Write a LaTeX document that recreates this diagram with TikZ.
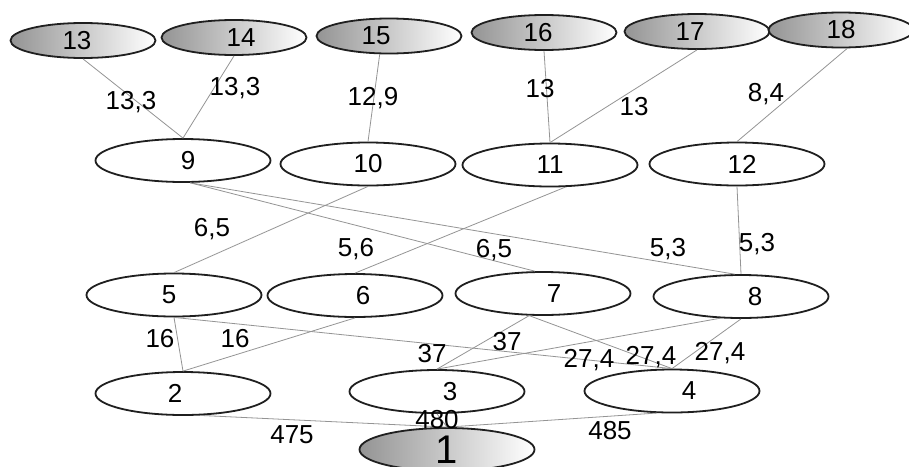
\documentclass[tikz,border=0pt]{standalone}
\usepackage{fontspec}
\setmainfont{Liberation Sans}
\usetikzlibrary{shapes.geometric}
\begin{document}
\begin{tikzpicture}[x=1pt,y=-1pt,
  ell/.style={ellipse, draw=black!88, line width=1.8pt, inner sep=0pt,
    minimum width=175pt, minimum height=43pt, font=\fontsize{26}{30}\selectfont},
  topell/.style={ell, minimum width=145pt, minimum height=35pt,
    left color=black!42, right color=white},
  rootell/.style={ell, left color=black!42, right color=white, font=\fontsize{40}{44}\selectfont},
  conn/.style={draw=black!42, line width=0.8pt},
  lbl/.style={inner sep=0pt, font=\fontsize{26}{30}\selectfont}]
\useasboundingbox (0,0) rectangle (909,466);
\fill[white] (0,0) rectangle (909,466);
% top row
\node[topell] (n13) at (83,40.5) {13\hspace*{12pt}};
\node[topell] (n14) at (234,37.5) {\hspace*{14pt}14};
\node[topell] (n15) at (389,36) {15\hspace*{26pt}};
\node[topell] (n16) at (544,32.5) {16\hspace*{12pt}};
\node[topell] (n17) at (697,31.5) {17\hspace*{14pt}};
\node[topell] (n18) at (841,30) {18};
% second row
\node[ell] (n9) at (183,160.5) {\hspace*{10pt}9};
\node[ell] (n10) at (368,164) {10};
\node[ell] (n11) at (550,165) {11};
\node[ell] (n12) at (737,164) {\hspace*{10pt}12};
% third row
\node[ell] (n5) at (174,295) {5\hspace*{10pt}};
\node[ell] (n6) at (355,295.5) {\hspace*{16pt}6};
\node[ell] (n7) at (543,293.5) {\hspace*{22pt}7};
\node[ell] (n8) at (741,296.5) {\hspace*{28pt}8};
% fourth row
\node[ell] (n2) at (183,393.5) {2\hspace*{16pt}};
\node[ell] (n3) at (437,391.5) {\hspace*{26pt}3};
\node[ell] (n4) at (672,391) {\hspace*{34pt}4};
% root
\node[rootell] (n1) at (447,449.5) {1};
% connectors
\draw[conn] (n13.south) -- (n9.north);
\draw[conn] (n14.south) -- (n9.north);
\draw[conn] (n15.-117) -- (n10.north);
\draw[conn] (n16.south) -- (n11.north);
\draw[conn] (n17.south) -- (n11.north);
\draw[conn] (n18.-71) -- (n12.north);
\draw[conn] (n10.south) -- (n5.north);
\draw[conn] (n11.-55) -- (n6.north);
\draw[conn] (n9.-72) -- (n7.110);
\draw[conn] (n9.-72) -- (n8.106);
\draw[conn] (n12.south) -- (n8.north);
\draw[conn] (n5.south) -- (n2.north);
\draw[conn] (n6.south) -- (n2.north);
\draw[conn] (n5.south) -- (n4.north);
\draw[conn] (n7.-122) -- (n3.north);
\draw[conn] (n8.-134) -- (n3.north);
\draw[conn] (n7.-122) -- (n4.north);
\draw[conn] (n8.south) -- (n4.north);
\draw[conn] (n2.-51) -- (n1.north);
\draw[conn] (n3.south) -- (n1.north);
\draw[conn] (n4.-125) -- (n1.north);
% labels
\node[lbl] (l1) at (131,102) {13,3};
\node[lbl] (l2) at (235,88) {13,3};
\node[lbl] (l3) at (373,98) {12,9};
\node[lbl] (l4) at (540,89) {13};
\node[lbl] (l5) at (634,107) {13};
\node[lbl] (l6) at (766,94) {8,4};
\node[lbl] (l7) at (212,229) {6,5};
\node[lbl] (l8) at (356,249) {5,6};
\node[lbl] (l9) at (494,250) {6,5};
\node[lbl] (l10) at (668,249) {5,3};
\node[lbl] (l11) at (757,244) {5,3};
\node[lbl] (l12) at (160,339) {16};
\node[lbl] (l13) at (235,339) {16};
\node[lbl] (l14) at (432,354) {37};
\node[lbl] (l15) at (507,342) {37};
\node[lbl] (l16) at (589,360) {27,4};
\node[lbl] (l17) at (651,357) {27,4};
\node[lbl] (l18) at (720,353) {27,4};
\node[lbl] (l19) at (292,435) {475};
\node[lbl] (l20) at (437,420) {480};
\node[lbl] (l21) at (610,431) {485};
\end{tikzpicture}
\end{document}
